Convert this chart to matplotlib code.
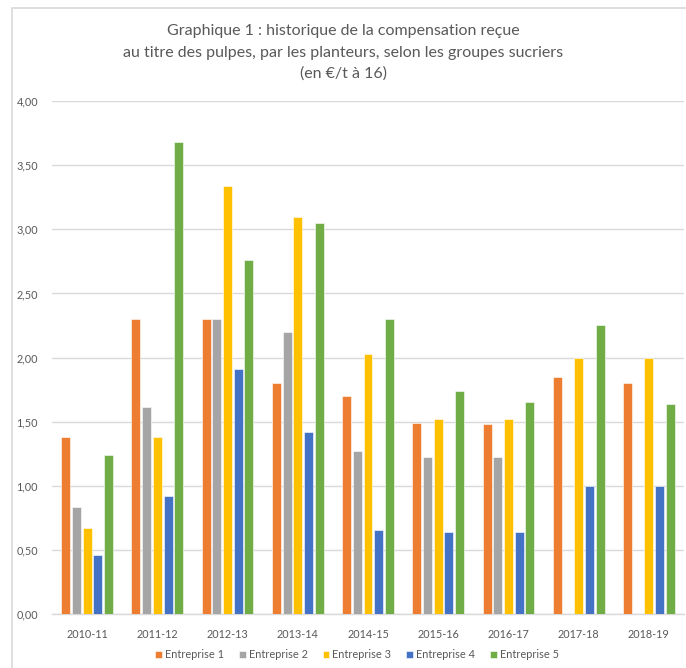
import numpy as np
import matplotlib
matplotlib.use("Agg")
import matplotlib.pyplot as plt
from matplotlib.patches import Rectangle
from matplotlib.ticker import FuncFormatter, MultipleLocator

campagnes = ["2010-11", "2011-12", "2012-13", "2013-14", "2014-15",
             "2015-16", "2016-17", "2017-18", "2018-19"]
entreprise_1 = [1.38, 2.30, 2.30, 1.80, 1.70, 1.49, 1.48, 1.85, 1.80]
entreprise_2 = [0.83, 1.61, 2.30, 2.20, 1.27, 1.22, 1.22, None, None]
entreprise_3 = [0.67, 1.38, 3.34, 3.10, 2.03, 1.52, 1.52, 2.00, 2.00]
entreprise_4 = [0.46, 0.92, 1.91, 1.42, 0.65, 0.64, 0.64, 1.00, 1.00]
entreprise_5 = [1.24, 3.68, 2.76, 3.05, 2.30, 1.74, 1.65, 2.25, 1.64]
series_names = ["Entreprise 1", "Entreprise 2", "Entreprise 3",
                "Entreprise 4", "Entreprise 5"]
title_lines = ["Graphique 1 : historique de la compensation reçue",
               "au titre des pulpes, par les planteurs, selon les groupes sucriers",
               "(en €/t à 16)"]

series = [entreprise_1, entreprise_2, entreprise_3, entreprise_4, entreprise_5]
colors = ["#ED7D31", "#A5A5A5", "#FFC000", "#4472C4", "#70AD47"]
text_color = "#595959"

plt.rcParams["font.family"] = ["Lato", "DejaVu Sans"]

W, H = 686, 668
fig = plt.figure(figsize=(W / 100, H / 100), dpi=100)
ax = fig.add_axes([52 / W, 1 - 613.7 / H, (684 - 52) / W, (613.7 - 101.3) / H])

x = np.arange(len(campagnes))
slot = 0.152
bw = 0.128
for i, (vals, name, col) in enumerate(zip(series, series_names, colors)):
    off = (i - 2) * slot
    xs = [xi + off for xi, v in zip(x, vals) if v is not None]
    hs = [v for v in vals if v is not None]
    ax.bar(xs, hs, width=bw, color=col, label=name, zorder=3,
           edgecolor="white", linewidth=0.4)

ax.set_xlim(-0.5, len(campagnes) - 0.5)
ax.set_ylim(0, 4)
ax.yaxis.set_major_locator(MultipleLocator(0.5))
ax.yaxis.set_major_formatter(FuncFormatter(lambda v, p: f"{v:.2f}".replace(".", ",")))
ax.set_xticks(x)
ax.set_xticklabels(campagnes)
ax.grid(axis="y", color="#D9D9D9", linewidth=1, zorder=0)
for s in ["top", "right", "left"]:
    ax.spines[s].set_visible(False)
ax.spines["bottom"].set_color("#D9D9D9")
ax.spines["bottom"].set_linewidth(1)
ax.tick_params(axis="both", length=0, labelsize=7.8, colors=text_color)
ax.tick_params(axis="y", pad=10)
ax.tick_params(axis="x", pad=11)

# three-line title, one baseline per line
for line, base in zip(title_lines, [35, 57.5, 78]):
    fig.text(343 / W, 1 - base / H, line, ha="center", va="baseline",
             fontsize=11.5, color=text_color)

leg = fig.legend(loc="center", bbox_to_anchor=(357 / W, 1 - 655 / H), ncol=5,
                 frameon=False, fontsize=7.9, handlelength=0.6, handleheight=0.6,
                 handletextpad=0.3, columnspacing=1.35)
for t in leg.get_texts():
    t.set_color(text_color)

fig.patches.append(Rectangle((11.5 / W, -0.1), 2, 1 - 8.3 / H + 0.1,
                             transform=fig.transFigure, fill=False,
                             edgecolor="#D9D9D9", linewidth=1.2))

fig.savefig("out.png", dpi=100)
